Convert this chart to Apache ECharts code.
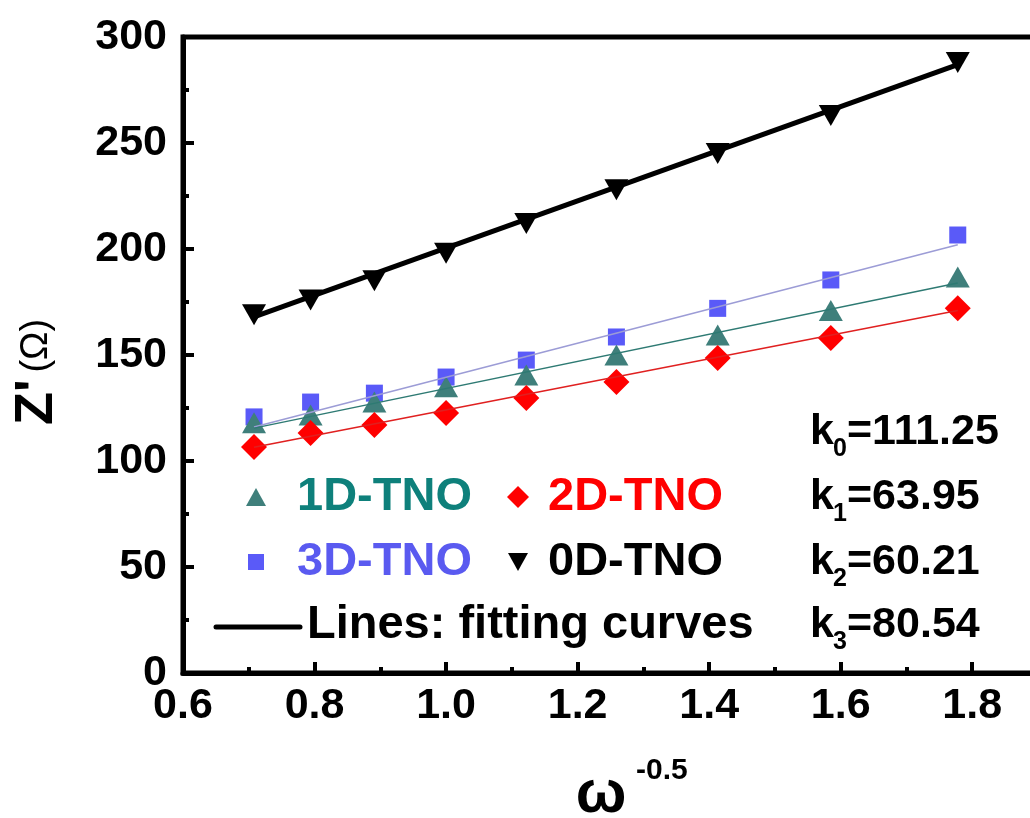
<!DOCTYPE html>
<html>
<head>
<meta charset="utf-8">
<script src="https://cdn.jsdelivr.net/npm/echarts@6/dist/echarts.min.js"></script>
<style>
  html, body { margin: 0; padding: 0; background: #fff; }
  #chart { width: 1030px; height: 818px; }
</style>
</head>
<body>
<div id="chart"></div>
<script>
// x = omega^-0.5
const xVals = [0.708, 0.794, 0.891, 1.0, 1.122, 1.259, 1.413, 1.585, 1.778];

// Z' values (Ohm)
const z0D = [169, 176, 185, 198, 212, 228, 245, 263, 288];
const z1D = [118, 121.7, 127.8, 135, 140.6, 150, 159.4, 171, 186.8];
const z2D = [106.6, 113.2, 117, 122.6, 129.7, 137.3, 148.6, 158, 172];
const z3D = [120.8, 127.8, 132, 139.6, 147.6, 158.5, 172, 185.4, 206.6];

// fitting lines, ends only
const fitX = [0.708, 1.778];
const fit0D = [168, 287];
const fit1D = [115.5, 184];
const fit2D = [106.5, 171];
const fit3D = [116, 202];

const slopes = ['111.25', '63.95', '60.21', '80.54'];

const FONT = '"Liberation Sans", Arial, sans-serif';
const pairs = (xs, ys) => xs.map((x, i) => [x, ys[i]]);

const chart = echarts.init(document.getElementById('chart'));

// legend + k labels are plain graphic text
const graphics = [];
const txt = (x, y, text, size, color, align) => graphics.push({
  type: 'text', x, y,
  style: { text, fill: color, font: `bold ${size}px ${FONT}`, align: align || 'left', verticalAlign: 'middle' }
});

const legendRows = [
  { y: 497, items: [{ sym: 'up', color: '#3f7f7b', label: '1D-TNO', lc: '#0e807b' }, { sym: 'dia', color: '#ff0000', label: '2D-TNO', lc: '#ff0000' }] },
  { y: 562, items: [{ sym: 'sq', color: '#5a5af8', label: '3D-TNO', lc: '#5a5af0' }, { sym: 'down', color: '#000', label: '0D-TNO', lc: '#000' }] }
];
legendRows.forEach(r => {
  r.items.forEach((it, j) => {
    const mx = j === 0 ? 256 : 518;
    const tx = j === 0 ? 297 : 548;
    let shape;
    if (it.sym === 'up') shape = { points: [[mx - 10, r.y + 9], [mx + 10, r.y + 9], [mx, r.y - 9]] };
    if (it.sym === 'down') shape = { points: [[mx - 10, r.y - 9], [mx + 10, r.y - 9], [mx, r.y + 9]] };
    if (it.sym === 'dia') shape = { points: [[mx - 11, r.y], [mx, r.y - 11], [mx + 11, r.y], [mx, r.y + 11]] };
    if (it.sym === 'sq') shape = { points: [[mx - 8, r.y - 8], [mx + 8, r.y - 8], [mx + 8, r.y + 8], [mx - 8, r.y + 8]] };
    graphics.push({ type: 'polygon', shape, style: { fill: it.color } });
    txt(tx, r.y, it.label, 47, it.lc);
  });
});
graphics.push({ type: 'line', shape: { x1: 216, y1: 627, x2: 300, y2: 627 }, style: { stroke: '#000', lineWidth: 5, lineCap: 'round' } });
txt(307, 625, 'Lines: fitting curves', 47, '#000');

[432, 497, 562, 625].forEach((y, i) => {
  txt(810, y, 'k', 43, '#000');
  txt(833, y + 17, String(i), 25, '#000');
  txt(847, y, '=' + slopes[i], 43, '#000');
});

// axis titles
graphics.push({
  type: 'text', x: 37, y: 372, rotation: Math.PI / 2,
  style: {
    text: '{z|Z\'}  {u|(\u03a9)}',
    rich: {
      z: { font: `bold 54px ${FONT}`, fill: '#000' },
      u: { font: `38px ${FONT}`, fill: '#000' }
    },
    align: 'center', verticalAlign: 'middle'
  }
});
txt(601, 795, '\u03c9', 60, '#000', 'center');
txt(636, 771, '-0.5', 30, '#000');

const axisCommon = {
  axisLine: { lineStyle: { color: '#000', width: 5 } },
  axisTick: { inside: true, length: 11, lineStyle: { color: '#000', width: 4 } },
  minorTick: { show: true, splitNumber: 2, length: 6, lineStyle: { color: '#000', width: 4 } },
  splitLine: { show: false },
  axisLabel: { color: '#000', fontSize: 43, fontWeight: 'bold', fontFamily: FONT }
};

chart.setOption({
  animation: false,
  backgroundColor: '#fff',
  grid: {
    left: 183, right: -8, top: 37, bottom: 145,
    outerBoundsMode: 'none', containLabel: false,
    show: true, borderColor: '#000', borderWidth: 5
  },
  xAxis: Object.assign({}, axisCommon, {
    type: 'value', min: 0.6, max: 1.9, interval: 0.2,
    axisLabel: Object.assign({}, axisCommon.axisLabel, { margin: 12, showMaxLabel: false, formatter: v => v.toFixed(1) })
  }),
  yAxis: Object.assign({}, axisCommon, {
    type: 'value', min: 0, max: 300, interval: 50,
    axisLabel: Object.assign({}, axisCommon.axisLabel, { margin: 16 })
  }),
  graphic: graphics,
  series: [
    { type: 'scatter', data: pairs(xVals, z3D), symbol: 'rect', symbolSize: 17, itemStyle: { color: '#5a5af8', opacity: 1 }, z: 2 },
    { type: 'scatter', data: pairs(xVals, z1D), symbol: 'triangle', symbolSize: [24, 21], itemStyle: { color: '#3f7f7b', opacity: 1 }, z: 2 },
    { type: 'scatter', data: pairs(xVals, z2D), symbol: 'diamond', symbolSize: [26, 26], itemStyle: { color: '#ff0000', opacity: 1 }, z: 2 },
    { type: 'scatter', data: pairs(xVals, z0D), symbol: 'triangle', symbolRotate: 180, symbolSize: [24, 21], itemStyle: { color: '#000', opacity: 1 }, z: 2 },
    { type: 'line', data: pairs(fitX, fit3D), showSymbol: false, lineStyle: { color: '#9c9cd6', width: 1.5 }, z: 3 },
    { type: 'line', data: pairs(fitX, fit1D), showSymbol: false, lineStyle: { color: '#2e7a73', width: 1.5 }, z: 3 },
    { type: 'line', data: pairs(fitX, fit2D), showSymbol: false, lineStyle: { color: '#e02020', width: 1.5 }, z: 3 },
    { type: 'line', data: pairs(fitX, fit0D), showSymbol: false, lineStyle: { color: '#000', width: 5 }, z: 3 }
  ]
});
</script>
</body>
</html>
